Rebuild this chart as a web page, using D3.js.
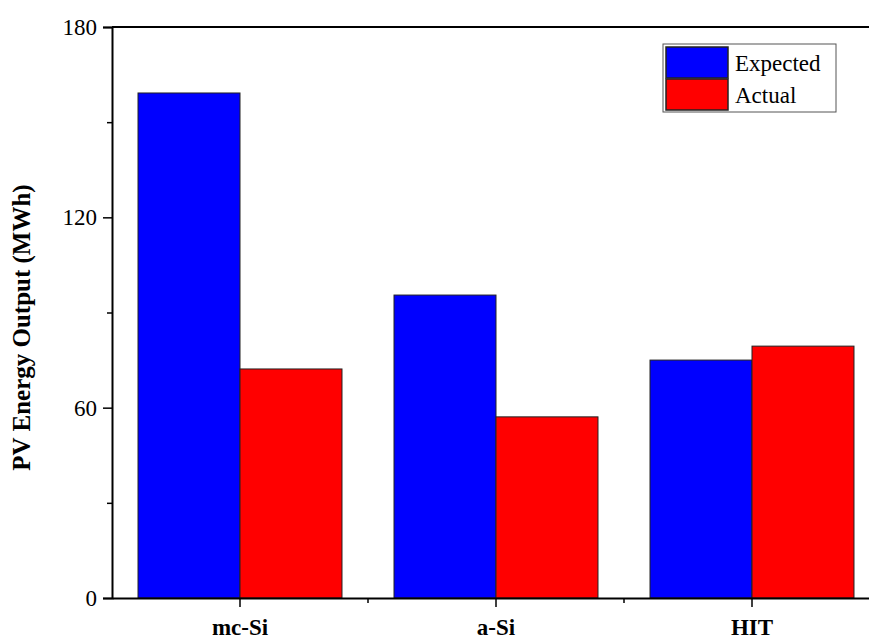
<!DOCTYPE html>
<html><head><meta charset="utf-8">
<script src="https://cdn.jsdelivr.net/npm/d3@7"></script>
<style>body{margin:0;background:#fff}svg, svg text{font-family:"Liberation Serif","Times New Roman",serif !important}</style>
</head><body><svg id="c" width="869" height="642"></svg>
<script>
const categories=["mc-Si","a-Si","HIT"];
const expected=[159.2,95.5,75.0];
const actual=[72.2,57.1,79.4];
const seriesNames=["Expected","Actual"];
const colors=["#0000ff","#ff0000"];
const yTicks=[0,60,120,180];
const yMinor=[30,90,150];

const svg=d3.select("#c");
const L=112,R=880,T=27,B=598;
const x=d3.scaleBand().domain(categories).range([L,R]);
const y=d3.scaleLinear().domain([0,180]).range([B,T]);
const inner=0.1016;
categories.forEach((c,i)=>{
  const bx=x(c)+x.bandwidth()*inner, bw=x.bandwidth()*(1-2*inner)/2;
  [expected[i],actual[i]].forEach((v,j)=>{
    svg.append("rect").attr("x",bx+j*bw).attr("y",y(v)).attr("width",bw).attr("height",B-y(v))
      .attr("fill",colors[j]).attr("stroke","#222").attr("stroke-width",1);
  });
});
svg.append("line").attr("x1",L).attr("x2",869).attr("y1",T).attr("y2",T).attr("stroke","#000").attr("stroke-width",2);
const ya=svg.append("g").attr("transform",`translate(${L},0)`).call(d3.axisLeft(y).tickValues(yTicks).tickSize(9).tickPadding(6));
ya.selectAll("text").attr("font-size",23).attr("fill","#000");
ya.select(".domain").attr("stroke-width",2);
ya.selectAll(".tick line").attr("stroke-width",1.5);
svg.append("g").attr("transform",`translate(${L},0)`).call(d3.axisLeft(y).tickValues(yMinor).tickSize(5).tickFormat(""))
  .call(g=>{g.select(".domain").remove();g.selectAll("line").attr("stroke-width",1.5);});
const xa=svg.append("g").attr("transform",`translate(0,${B})`).call(d3.axisBottom(x).tickSize(9).tickPadding(12).tickSizeOuter(0));
xa.selectAll("text").attr("font-size",23).attr("font-weight","bold").attr("fill","#000");
xa.select(".domain").attr("stroke-width",2);
xa.selectAll(".tick line").attr("stroke-width",1.5);
[1,2].forEach(k=>svg.append("line").attr("x1",L+k*x.step()).attr("x2",L+k*x.step()).attr("y1",B).attr("y2",B+5).attr("stroke","#000").attr("stroke-width",1.5));
svg.append("text").attr("transform",`translate(30,${(T+B)/2+15}) rotate(-90)`).attr("text-anchor","middle")
  .attr("font-size",25).attr("font-weight","bold").text("PV Energy Output (MWh)");
const lg=svg.append("g");
lg.append("rect").attr("x",663).attr("y",44).attr("width",173).attr("height",68).attr("fill","#fff").attr("stroke","#555").attr("stroke-width",1);
seriesNames.forEach((n,j)=>{
  lg.append("rect").attr("x",666).attr("y",47+j*32).attr("width",62).attr("height",31).attr("fill",colors[j]).attr("stroke","#222").attr("stroke-width",1.5);
  lg.append("text").attr("x",735).attr("y",71+j*32).attr("font-size",23).text(n);
});
</script></body></html>
